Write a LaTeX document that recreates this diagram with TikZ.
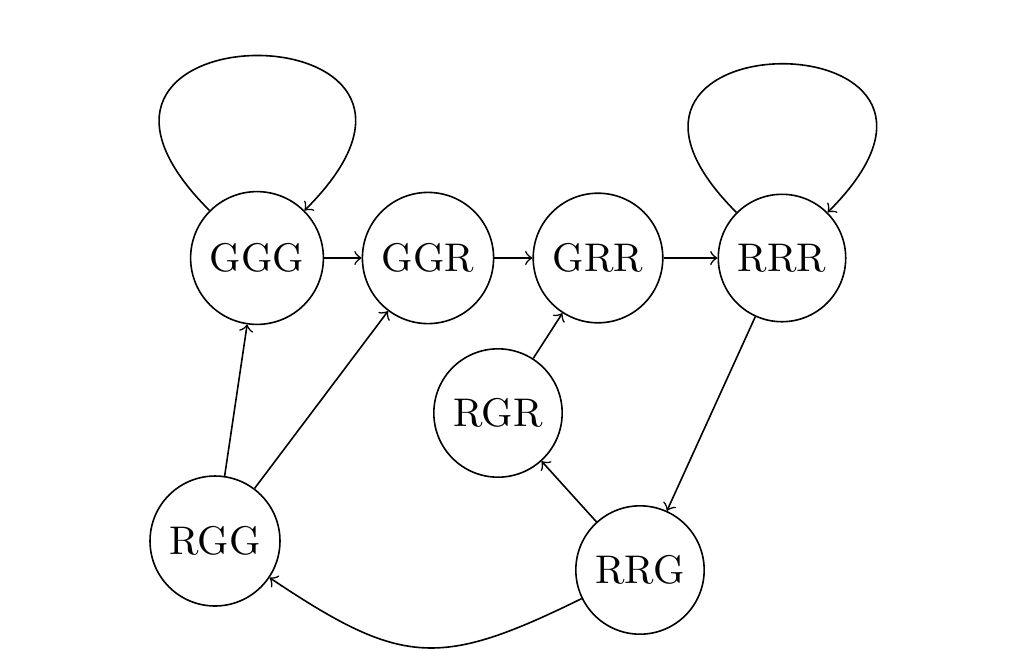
\documentclass[tikz,border=0pt]{standalone}
\begin{document}
\begin{tikzpicture}[x=1pt,y=1pt,
  state/.style={circle,draw},
  edgearrow/.style={->}]
\useasboundingbox (0,0) rectangle (257,167);
\node[state] (GGG) at (64.25,102.5) {GGG};
\node[state] (GGR) at (107,102.5) {GGR};
\node[state] (GRR) at (149.5,102.5) {GRR};
\node[state] (RRR) at (195.5,102.5) {RRR};
\node[state] (RGR) at (124.5,63.75) {RGR};
\node[state] (RGG) at (53.75,31.75) {RGG};
\node[state] (RRG) at (160,24.5) {RRG};
\draw[edgearrow] (GGG.135) .. controls +(135:73) and +(45:73) .. (GGG.45);
\draw[edgearrow] (RRR.135) .. controls +(135:70) and +(45:70) .. (RRR.45);
\draw[edgearrow] (GGG) -- (GGR);
\draw[edgearrow] (GGR) -- (GRR);
\draw[edgearrow] (GRR) -- (RRR);
\draw[edgearrow] (RRR) -- (RRG);
\draw[edgearrow] (RRG) -- (RGR);
\draw[edgearrow] (RGR) -- (GRR);
\draw[edgearrow] (RGG) -- (GGG);
\draw[edgearrow] (RGG) -- (GGR);
\draw[edgearrow] (RRG) to[bend left=30,looseness=1.3] (RGG);
\end{tikzpicture}
\end{document}
